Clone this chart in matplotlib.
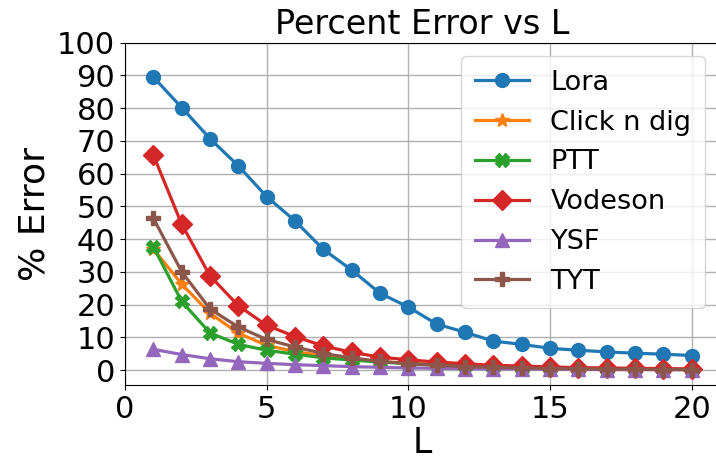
import numpy as np
import matplotlib
matplotlib.use('Agg')
import matplotlib.pyplot as plt

# percent error for each method against L
L = list(range(1, 21))
lora = [89.5, 80.2, 70.7, 62.4, 53.0, 45.6, 36.9, 30.6, 23.5, 19.3,
        14.1, 11.6, 8.9, 7.9, 6.7, 6.1, 5.6, 5.2, 4.9, 4.5]
click_n_dig = [37.0, 26.3, 17.4, 11.3, 7.6, 5.7, 4.4, 3.4, 2.7, 2.1,
               1.7, 1.3, 1.0, 0.8, 0.6, 0.5, 0.4, 0.3, 0.3, 0.2]
ptt = [37.7, 21.0, 11.4, 7.9, 6.1, 4.9, 3.8, 3.1, 2.5, 2.0,
       1.6, 1.3, 1.0, 0.8, 0.6, 0.5, 0.4, 0.3, 0.3, 0.2]
vodeson = [65.7, 44.6, 28.8, 19.7, 13.7, 10.3, 7.4, 5.5, 4.0, 3.2,
           2.5, 2.0, 1.5, 1.3, 1.0, 0.8, 0.7, 0.6, 0.5, 0.4]
ysf = [6.4, 4.8, 3.5, 2.6, 2.1, 1.7, 1.4, 1.1, 0.9, 0.7,
       0.6, 0.5, 0.4, 0.4, 0.3, 0.3, 0.2, 0.2, 0.2, 0.2]
tyt = [46.4, 30.1, 18.7, 13.2, 9.4, 7.1, 5.1, 3.8, 2.7, 2.0,
       1.5, 1.1, 0.9, 0.7, 0.5, 0.4, 0.3, 0.3, 0.2, 0.2]

series = [('Lora', lora, 'o', 10),
          ('Click n dig', click_n_dig, '*', 10),
          ('PTT', ptt, 'X', 10),
          ('Vodeson', vodeson, 'D', 10),
          ('YSF', ysf, '^', 10),
          ('TYT', tyt, 'P', 10)]

fig = plt.figure(figsize=(7.16, 4.63), dpi=100)
ax = fig.add_axes([0.1746, 0.1685, 0.829, 0.7393])

for name, vals, mk, ms in series:
    ax.plot(L, vals, marker=mk, markersize=ms, linewidth=2.3, label=name)

ax.set_xlim(0, 20.95)
ax.set_ylim(-4.5, 100)
ax.set_yticks(np.arange(0, 101, 10))
ax.set_xticks([0, 5, 10, 15, 20])
ax.grid(True, color='#b0b0b0', linewidth=1.0)
ax.set_axisbelow(True)
ax.tick_params(labelsize=22)
ax.set_title('Percent Error vs L', fontsize=24)
ax.set_xlabel('L', fontsize=25, labelpad=2)
ax.set_ylabel('% Error', fontsize=26)
ax.legend(loc='upper right', fontsize=19.5, handlelength=2.0,
          labelspacing=0.51, borderpad=0.5)

fig.savefig('out.png', dpi=100)
